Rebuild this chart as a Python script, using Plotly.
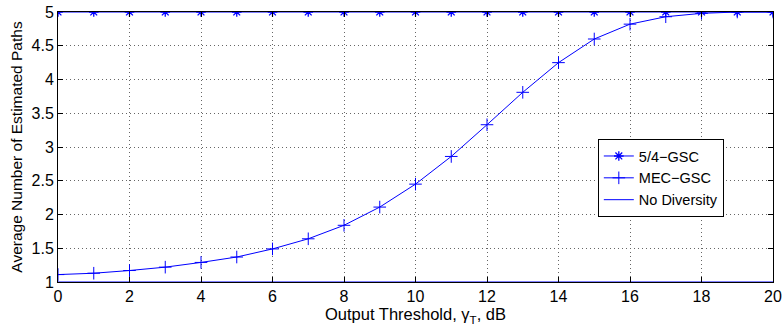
import plotly.graph_objects as go

x_vals = list(range(0, 21))
gsc54 = [5.0] * 21
mec_gsc = [1.11, 1.13, 1.17, 1.22, 1.29, 1.37, 1.49, 1.64, 1.84, 2.11, 2.45,
           2.86, 3.33, 3.81, 4.25, 4.60, 4.82, 4.93, 4.98, 5.0, 5.0]
no_div = [1.0] * 21

x_ticks = list(range(0, 21, 2))
y_ticks = [1, 1.5, 2, 2.5, 3, 3.5, 4, 4.5, 5]
y_tick_text = ["1", "1.5", "2", "2.5", "3", "3.5", "4", "4.5", "5"]

blue = "#0000ff"
fig = go.Figure()
fig.add_trace(go.Scatter(x=x_vals, y=gsc54, mode="lines+markers", name="5/4\u2212GSC",
                         line=dict(color=blue, width=1),
                         marker=dict(symbol="asterisk-open", size=8, color=blue,
                                     line=dict(color=blue, width=1.3))))
fig.add_trace(go.Scatter(x=x_vals, y=mec_gsc, mode="lines+markers", name="MEC\u2212GSC",
                         line=dict(color=blue, width=1),
                         marker=dict(symbol="cross-thin-open", size=9, color=blue,
                                     line=dict(color=blue, width=1))))
fig.add_trace(go.Scatter(x=x_vals, y=no_div, mode="lines", name="No Diversity",
                         line=dict(color=blue, width=1)))

FS = 16
axis_common = dict(showline=True, linecolor="black", linewidth=1, mirror="ticks",
                   ticks="inside", ticklen=5, tickcolor="black",
                   showgrid=True, gridcolor="#666666", griddash="1px,3px", gridwidth=1,
                   zeroline=False, tickfont=dict(size=FS, color="black"), automargin=False)

fig.update_xaxes(range=[0, 20], tickvals=x_ticks,
                 title=dict(text="Output Threshold, \u03b3<sub>T</sub>, dB", font=dict(size=16.5, color="black"), standoff=0),
                 **axis_common)
fig.update_yaxes(range=[1, 5], tickvals=y_ticks, ticktext=y_tick_text,
                 title=dict(text="Average Number of Estimated Paths", font=dict(size=15.5, color="black"), standoff=5),
                 **axis_common)

fig.update_layout(
    width=783, height=331,
    margin=dict(l=58, r=10, t=12, b=49),
    paper_bgcolor="white", plot_bgcolor="white",
    font=dict(family="Liberation Sans, Arial, sans-serif", size=FS, color="black"),
    showlegend=True,
    legend=dict(x=0.755, y=0.385, xanchor="left", yanchor="middle",
                bgcolor="white", bordercolor="black", borderwidth=1,
                font=dict(size=14.5), tracegroupgap=0, itemwidth=30),
)

fig.write_html("out.html", config={"displayModeBar": False},
               post_script="document.body.style.margin='0';document.body.style.overflow='hidden';")
